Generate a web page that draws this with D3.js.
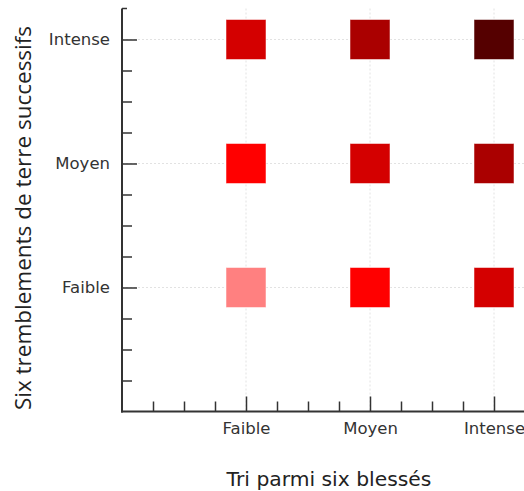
<!DOCTYPE html>
<html>
<head>
<meta charset="utf-8">
<script src="https://cdn.jsdelivr.net/npm/d3@7"></script>
<style>
  html, body { margin: 0; padding: 0; background: #fff; }
  svg { display: block; }
</style>
</head>
<body>
<svg id="chart" width="524" height="491"></svg>
<script>
// ---- data ----
const categories = ["Faible", "Moyen", "Intense"];
const categoryValues = [1, 2, 3];
const xTitle = "Tri parmi six blessés";
const yTitle = "Six tremblements de terre successifs";
// rows: y = Faible, Moyen, Intense ; columns: x = Faible, Moyen, Intense
const intensity = [
  [2, 3, 4],
  [3, 4, 5],
  [4, 5, 6]
];
const intensityLevels = [2, 3, 4, 5, 6];
const levelColors = ["#ff8080", "#ff0000", "#d40000", "#aa0000", "#550000"];
const axisMax = 3.25;
const minorStep = 0.25;

(function () {
// ---- layout ----
const mLeft = 122, mRight = 525, mTop = 8.5, mBottom = 411.5;
const svg = d3.select("#chart");

const x = d3.scaleLinear().domain([0, axisMax]).range([mLeft, mRight]);
const y = d3.scaleLinear().domain([0, axisMax]).range([mBottom, mTop]);
const color = d3.scaleOrdinal().domain(intensityLevels).range(levelColors);

const minorTicks = d3.range(minorStep, axisMax + 1e-9, minorStep).filter(v => Math.abs(v - Math.round(v)) > 1e-6 && v < axisMax - 1e-6);

// grid
const grid = svg.append("g");
grid.selectAll("line.gx").data(categoryValues).join("line")
  .attr("x1", d => x(d)).attr("x2", d => x(d))
  .attr("y1", y(axisMax)).attr("y2", y(0))
  .attr("stroke", "#e2e2e2").attr("stroke-width", 1).attr("stroke-dasharray", "2,2");
grid.selectAll("line.gy").data(categoryValues).join("line")
  .attr("y1", d => y(d)).attr("y2", d => y(d))
  .attr("x1", x(0)).attr("x2", x(axisMax))
  .attr("stroke", "#e2e2e2").attr("stroke-width", 1).attr("stroke-dasharray", "2,2");

// cells
const cells = [];
intensity.forEach((row, yi) => row.forEach((v, xi) => cells.push({ xv: categoryValues[xi], yv: categoryValues[yi], v })));
const S = 40;
svg.append("g").selectAll("rect").data(cells).join("rect")
  .attr("x", d => x(d.xv) - S / 2)
  .attr("y", d => y(d.yv) - S / 2)
  .attr("width", S).attr("height", S)
  .attr("fill", d => color(d.v))
  .attr("stroke", "rgba(255,255,255,0.5)").attr("stroke-width", 1);

// axes
const axisColor = "#333";
const fmt = d => categories[categoryValues.indexOf(d)];

function styleAxis(g) {
  g.select(".domain").remove();
  g.selectAll("line").attr("stroke", axisColor).attr("stroke-width", 1.5);
  g.selectAll("text").attr("fill", "#333").style("font-family", "'DejaVu Sans', Verdana, sans-serif").style("font-size", "16.5px");
}

// minor ticks
svg.append("g").attr("transform", `translate(${mLeft},0)`)
  .call(d3.axisLeft(y).tickValues(minorTicks).tickSize(-10).tickFormat(""))
  .call(styleAxis);
svg.append("g").attr("transform", `translate(0,${mBottom})`)
  .call(d3.axisBottom(x).tickValues(minorTicks).tickSize(-10).tickFormat(""))
  .call(styleAxis);

// major ticks + labels
svg.append("g").attr("transform", `translate(${mLeft},0)`)
  .call(d3.axisLeft(y).tickValues(categoryValues).tickSize(-15).tickPadding(12).tickFormat(fmt))
  .call(styleAxis)
  .selectAll("text").attr("x", -12);
svg.append("g").attr("transform", `translate(0,${mBottom})`)
  .call(d3.axisBottom(x).tickValues(categoryValues).tickSize(-15).tickPadding(11).tickFormat(fmt))
  .call(styleAxis)
  .selectAll("text").attr("y", 11);

// axis lines
svg.append("line").attr("x1", mLeft).attr("x2", mLeft).attr("y1", y(axisMax)).attr("y2", mBottom + 1)
  .attr("stroke", axisColor).attr("stroke-width", 2);
svg.append("line").attr("x1", mLeft - 1).attr("x2", x(axisMax)).attr("y1", mBottom).attr("y2", mBottom)
  .attr("stroke", axisColor).attr("stroke-width", 2);
// top cap
svg.append("line").attr("x1", mLeft).attr("x2", mLeft + 5).attr("y1", y(axisMax)).attr("y2", y(axisMax))
  .attr("stroke", axisColor).attr("stroke-width", 1.5);

// titles
svg.append("text").attr("x", 329).attr("y", 486).attr("text-anchor", "middle")
  .attr("fill", "#222").style("font-family", "'DejaVu Sans', Verdana, sans-serif").style("font-size", "20.3px")
  .text(xTitle);
svg.append("text").attr("transform", "translate(31,218) rotate(-90)").attr("text-anchor", "middle")
  .attr("fill", "#222").style("font-family", "'Open Sans', sans-serif").style("font-size", "22.5px")
  .text(yTitle);
})();
</script>
</body>
</html>
